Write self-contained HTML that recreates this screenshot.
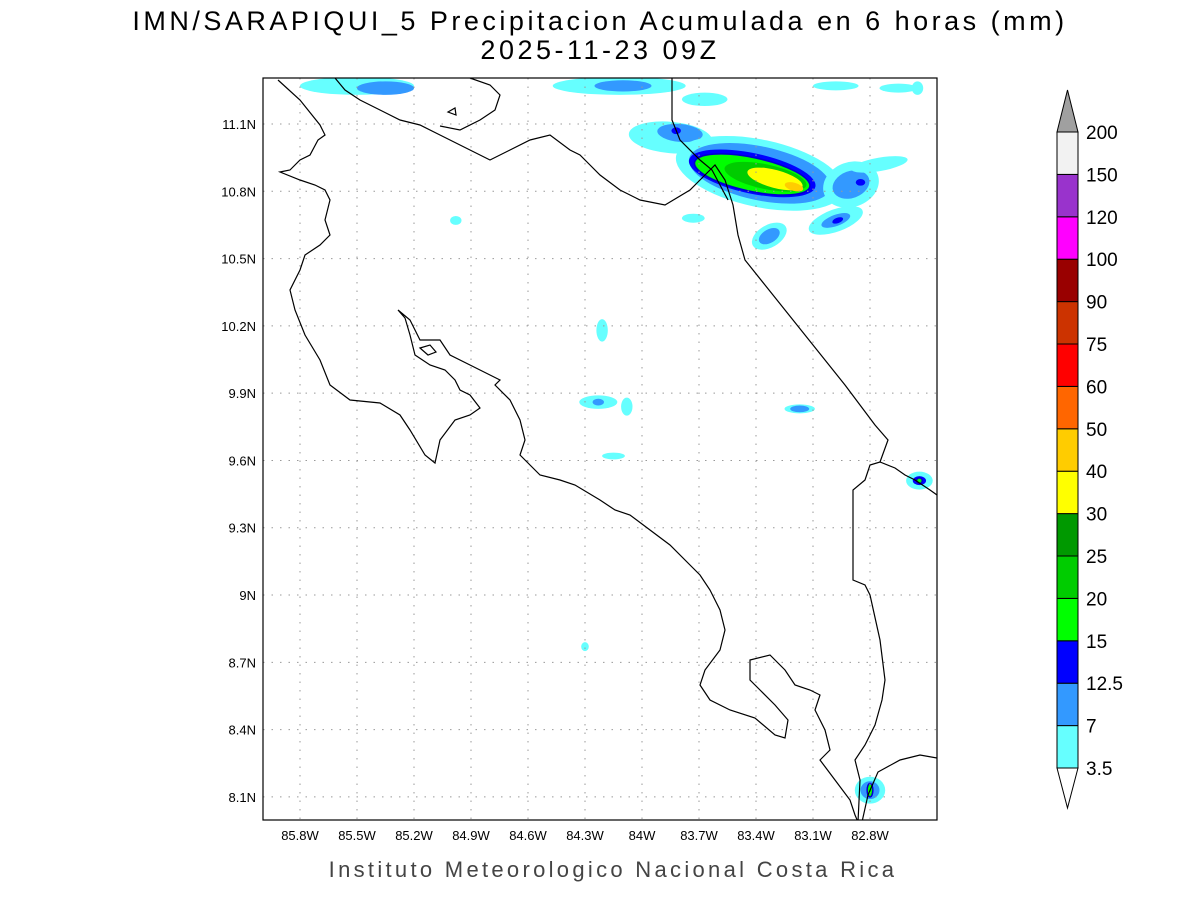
<!DOCTYPE html>
<html><head><meta charset="utf-8"><style>
body{margin:0;background:#fff;width:1200px;height:900px;overflow:hidden;font-family:"Liberation Sans",sans-serif}
</style></head><body>
<svg id="s" width="1200" height="900">
<text x="600" y="30" text-anchor="middle" font-size="27" font-family="Liberation Sans" letter-spacing="3.5">IMN/SARAPIQUI_5 Precipitacion Acumulada en 6 horas (mm)</text>
<text x="600" y="59" text-anchor="middle" font-size="27" font-family="Liberation Sans" letter-spacing="3.5">2025-11-23 09Z</text>
<text x="613" y="877" text-anchor="middle" font-size="22" fill="#444" letter-spacing="3.3">Instituto Meteorologico Nacional Costa Rica</text>
<defs><clipPath id="cp"><rect x="263" y="78" width="674" height="742"/></clipPath></defs>
<g id="fill" clip-path="url(#cp)"></g>
<g id="grid"></g>
<g clip-path="url(#cp)" fill="none" stroke="#000" stroke-width="1.2">
<polyline points="278,80 300,100 320,125 325,135 318,140 310,155 300,160 290,170 280,172 300,180 315,185 325,190 330,200 325,220 330,235 320,245 305,255 300,270 290,290 295,310 305,335 320,360 330,385 350,400 380,403 400,415 410,430 425,455 435,463 440,440 455,420 470,415 480,408 470,395 460,390 455,380 445,370 430,365 415,355 410,335 405,318 398,310 410,320 420,340 440,340 450,355 470,365 490,375 500,380 495,385 510,400 520,420 525,440 520,455 530,465 540,475 560,480 575,485 600,500 615,510 630,515 650,530 670,545 690,565 700,575 710,590 720,610 725,630 720,650 705,670 700,685 710,700 730,710 755,718 775,735 785,738 788,720 775,705 760,690 750,680 750,660 770,655 785,670 795,685 810,690 820,695 815,710 825,730 830,750 820,760 835,780 850,800 855,815 858,822"/>
<polyline points="862,822 868,795 878,772 900,760 920,755 937,758"/>
<polyline points="858,822 860,780 855,760 865,745 875,725 882,700 885,680 880,640 870,595 865,585 853,580 853,490 865,480 870,465 880,462 895,468 905,475 915,480 930,490 937,495"/>
<polyline points="880,462 888,440 875,425 860,405 845,385 825,360 805,335 785,310 765,285 745,260 738,235 733,205 725,180 715,165 705,175 690,190 665,205 640,200 620,190 600,175 590,165 580,155 570,150 550,135 530,140 510,150 490,160 470,150 440,135 420,125 400,120 380,110 360,100 345,90 335,78"/>
<polyline points="672,78 672,120 680,140 700,160 712,170 728,200"/>
<polyline points="470,78 490,85 500,95 495,110 480,120 460,130 440,126"/>
<polygon points="420,348 430,345 436,352 428,355"/>
<polygon points="448,112 455,108 456,115"/>
</g>
<rect x="263" y="78" width="674" height="742" fill="none" stroke="#000" stroke-width="1.2"/>
<g id="cbar"></g>
</svg>
<script>
const latTicks=[11.1,10.8,10.5,10.2,9.9,9.6,9.3,9.0,8.7,8.4,8.1];
const latLabels=["11.1N","10.8N","10.5N","10.2N","9.9N","9.6N","9.3N","9N","8.7N","8.4N","8.1N"];
const lonTicks=[-85.8,-85.5,-85.2,-84.9,-84.6,-84.3,-84.0,-83.7,-83.4,-83.1,-82.8];
const lonLabels=["85.8W","85.5W","85.2W","84.9W","84.6W","84.3W","84W","83.7W","83.4W","83.1W","82.8W"];
const levelLabels=["3.5","7","12.5","15","20","25","30","40","50","60","75","90","100","120","150","200"];
const levelColors=["#66ffff","#3399ff","#0000ff","#00ff00","#00cc00","#009900","#ffff00","#ffcc00","#ff6600","#ff0000","#cc3300","#990000","#ff00ff","#9933cc","#f2f2f2"];
// blobs: lon, lat, rx(deg lon), ry(deg lat), level index, rotation(deg)
const blobLon=[-83.85,-83.8,-83.82,-83.38,-83.38,-83.42,-83.42,-83.35,-83.3,-83.2,-82.9,-82.9,-82.85,-82.98,-82.98,-82.97,-82.75,-83.33,-83.33,-85.5,-85.35,-84.12,-84.1,-83.67,-84.98,-84.21,-84.23,-84.23,-84.08,-84.15,-83.17,-83.17,-82.54,-82.54,-82.54,-82.8,-82.8,-82.8,-84.3,-82.65,-82.98,-82.55,-83.73];
const blobLat=[11.04,11.06,11.07,10.88,10.88,10.88,10.875,10.865,10.855,10.82,10.83,10.83,10.84,10.67,10.67,10.67,10.92,10.6,10.6,11.27,11.26,11.27,11.27,11.21,10.67,10.18,9.86,9.86,9.84,9.62,9.83,9.83,9.51,9.51,9.51,8.13,8.13,8.13,8.77,11.26,11.27,11.26,10.68];
const blobRx=[0.22,0.12,0.025,0.45,0.38,0.34,0.31,0.22,0.15,0.05,0.15,0.1,0.025,0.15,0.08,0.03,0.15,0.1,0.06,0.3,0.15,0.35,0.15,0.12,0.03,0.03,0.1,0.03,0.03,0.06,0.08,0.05,0.07,0.035,0.015,0.08,0.05,0.015,0.02,0.1,0.12,0.03,0.06];
const blobRy=[0.07,0.04,0.015,0.15,0.12,0.09,0.075,0.055,0.04,0.018,0.1,0.06,0.015,0.05,0.025,0.012,0.03,0.05,0.03,0.04,0.03,0.04,0.025,0.03,0.02,0.05,0.03,0.015,0.04,0.015,0.02,0.015,0.04,0.02,0.012,0.06,0.04,0.03,0.02,0.02,0.02,0.03,0.02];
const blobLvl=[0,1,2,0,1,2,3,4,6,7,0,1,2,0,1,2,0,0,1,0,1,0,1,0,0,0,0,1,0,0,0,1,0,2,3,0,1,3,0,0,0,0,0];
const blobRot=[5,5,0,12,12,12,12,12,15,15,-20,-20,0,-20,-20,-20,-10,-30,-30,0,0,0,0,0,0,0,0,0,0,0,0,0,0,0,0,0,0,0,0,0,0,0,0];
(function(){
const NS="http://www.w3.org/2000/svg";
const lonX=l=>300+(l+85.8)*190, latY=l=>124+(11.1-l)*224.3;
const fill=document.getElementById('fill');
for(let i=0;i<blobLon.length;i++){
 const e=document.createElementNS(NS,'ellipse');
 const cx=lonX(blobLon[i]),cy=latY(blobLat[i]);
 e.setAttribute('cx',cx);e.setAttribute('cy',cy);
 e.setAttribute('rx',blobRx[i]*190);e.setAttribute('ry',blobRy[i]*224.3);
 e.setAttribute('fill',levelColors[blobLvl[i]]);
 if(blobLvl[i]===3){e.setAttribute('stroke','#0000cc');e.setAttribute('stroke-width','1.5');}
 e.setAttribute('transform','rotate('+blobRot[i]+' '+cx+' '+cy+')');
 
 
 fill.appendChild(e);
}
const g=document.getElementById('grid');
latTicks.forEach((v,i)=>{const y=latY(v);
 const l=document.createElementNS(NS,'line');l.setAttribute('x1',263);l.setAttribute('x2',937);l.setAttribute('y1',y);l.setAttribute('y2',y);
 l.setAttribute('stroke','#999');l.setAttribute('stroke-dasharray','1.5 7');
 
 
 g.appendChild(l);
 const t=document.createElementNS(NS,'text');t.setAttribute('x',256);t.setAttribute('y',y+5);t.setAttribute('text-anchor','end');t.setAttribute('font-size','13');t.textContent=latLabels[i];
 
 
 g.appendChild(t);});
lonTicks.forEach((v,i)=>{const x=lonX(v);
 const l=document.createElementNS(NS,'line');l.setAttribute('y1',78);l.setAttribute('y2',820);l.setAttribute('x1',x);l.setAttribute('x2',x);
 l.setAttribute('stroke','#999');l.setAttribute('stroke-dasharray','1.5 7');
 
 
 g.appendChild(l);
 const t=document.createElementNS(NS,'text');t.setAttribute('x',x);t.setAttribute('y',840);t.setAttribute('text-anchor','middle');t.setAttribute('font-size','13');t.textContent=lonLabels[i];
 
 
 g.appendChild(t);});
const cb=document.getElementById('cbar');
const x0=1057,w=21,yb=768,step=42.4;
levelColors.forEach((c,i)=>{
 const r=document.createElementNS(NS,'rect');r.setAttribute('x',x0);r.setAttribute('y',yb-(i+1)*step);r.setAttribute('width',w);r.setAttribute('height',step);
 r.setAttribute('fill',c);r.setAttribute('stroke','#000');
 
 
 cb.appendChild(r);});
levelLabels.forEach((s,i)=>{
 const t=document.createElementNS(NS,'text');t.setAttribute('x',1086);t.setAttribute('y',yb-i*step+7);t.setAttribute('font-size','19');t.textContent=s;
 
 
 cb.appendChild(t);});
const topY=yb-levelColors.length*step;
const tp=document.createElementNS(NS,'polygon');tp.setAttribute('points',x0+','+topY+' '+(x0+w)+','+topY+' '+(x0+w/2)+','+(topY-42));tp.setAttribute('fill','#a0a0a0');tp.setAttribute('stroke','#000');


cb.appendChild(tp);
const bp=document.createElementNS(NS,'polygon');bp.setAttribute('points',x0+','+yb+' '+(x0+w)+','+yb+' '+(x0+w/2)+','+(yb+40));bp.setAttribute('fill','#fff');bp.setAttribute('stroke','#000');


cb.appendChild(bp);
})();
</script>
</body></html>
